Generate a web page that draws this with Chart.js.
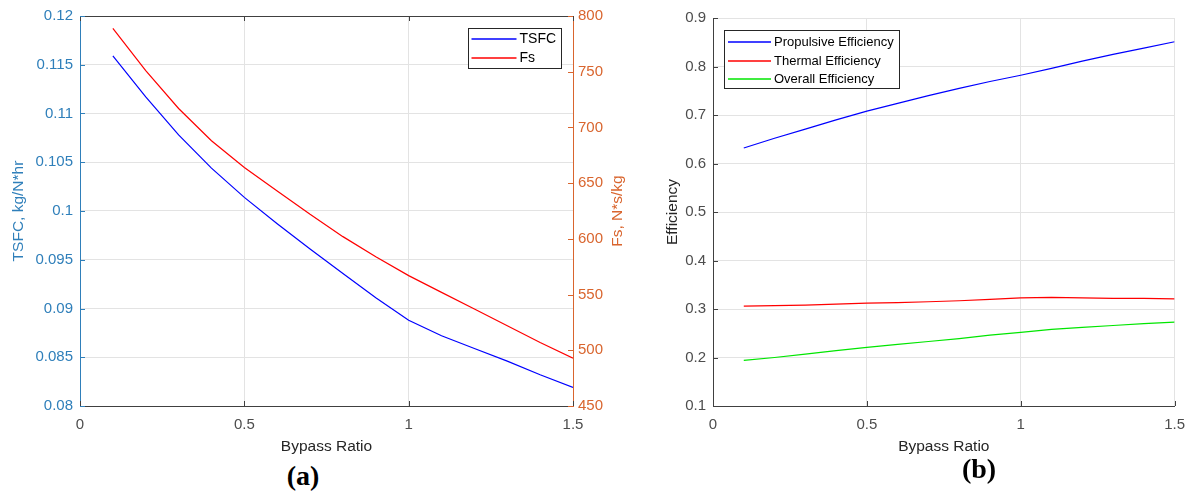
<!DOCTYPE html>
<html lang="en">
<head>
<meta charset="UTF-8">
<title>Bypass ratio study</title>
<script src="https://cdn.jsdelivr.net/npm/chart.js"></script>
<style>
  body { margin: 0; background: #fff; width: 1195px; height: 492px; position: relative; overflow: hidden; }
  canvas { position: absolute; top: 0; }
  #chartA { left: 0; }
  #chartB { left: 632px; }
  .tag { position: absolute; font-family: "Liberation Serif", "Times New Roman", serif; font-weight: bold; font-size: 28px; color: #000; transform: translate(-50%, -50%); }
</style>
</head>
<body>
  <canvas id="chartA" width="632" height="460"></canvas>
  <canvas id="chartB" width="563" height="460"></canvas>
  <div class="tag" style="left:303px; top:476px;">(a)</div>
  <div class="tag" style="left:979px; top:469px;">(b)</div>

<script>
  // values
  const bypass = [0.1, 0.2, 0.3, 0.4, 0.5, 0.6, 0.7, 0.8, 0.9, 1.0, 1.1, 1.2, 1.3, 1.4, 1.5];
  const tsfc = [0.1159, 0.1117, 0.1078, 0.1044, 0.1014, 0.0987, 0.0961, 0.0936, 0.0911, 0.0888, 0.0872, 0.0859, 0.0846, 0.0832, 0.0819];
  const fs = [789, 751, 717, 688, 664, 643, 622, 602, 584, 567, 552, 537, 522, 507, 493];
  const propEff = [0.632, 0.652, 0.671, 0.690, 0.708, 0.724, 0.740, 0.755, 0.769, 0.782, 0.796, 0.811, 0.825, 0.838, 0.851];
  const thermEff = [0.306, 0.307, 0.308, 0.310, 0.312, 0.313, 0.315, 0.317, 0.320, 0.323, 0.324, 0.323, 0.322, 0.322, 0.321];
  const overallEff = [0.194, 0.200, 0.207, 0.214, 0.221, 0.227, 0.233, 0.239, 0.246, 0.252, 0.258, 0.262, 0.266, 0.270, 0.273];

  const xTicks = [0, 0.5, 1, 1.5];
  const tsfcTicks = [0.08, 0.085, 0.09, 0.095, 0.1, 0.105, 0.11, 0.115, 0.12];
  const fsTicks = [450, 500, 550, 600, 650, 700, 750, 800];
  const effTicks = [0.1, 0.2, 0.3, 0.4, 0.5, 0.6, 0.7, 0.8, 0.9];

  const FONT = '"Liberation Sans", Arial, sans-serif';
  const BLUE_AX = '#2f7fba';
  const ORANGE_AX = '#d9652e';
  const GRID = '#e3e3e3';
  const DARK = '#404040';

  Chart.defaults.font.family = FONT;

  const pts = ys => bypass.map((x, i) => ({ x: x, y: ys[i] }));
  const useTicks = arr => scale => { scale.ticks = arr.map(v => ({ value: v })); };

  // MATLAB style: ticks pointing into the plot, optional dark top edge
  const frame = {
    id: 'frame',
    afterDatasetsDraw(chart, args, o) {
      const { ctx, chartArea: a, scales } = chart;
      ctx.save();
      ctx.lineWidth = 1;
      if (o.top) {
        ctx.strokeStyle = o.top;
        ctx.beginPath();
        ctx.moveTo(a.left, Math.round(a.top) + 0.5);
        ctx.lineTo(a.right, Math.round(a.top) + 0.5);
        ctx.stroke();
      }
      (o.marks || []).forEach(m => {
        const s = scales[m.id];
        ctx.strokeStyle = m.color;
        s.ticks.forEach(t => {
          const p = Math.round(s.getPixelForValue(t.value)) + 0.5;
          ctx.beginPath();
          if (m.side === 'bottom') { ctx.moveTo(p, a.bottom); ctx.lineTo(p, a.bottom - 5); }
          if (m.side === 'top') { ctx.moveTo(p, a.top); ctx.lineTo(p, a.top + 5); }
          if (m.side === 'left') { ctx.moveTo(a.left, p); ctx.lineTo(a.left + 5, p); }
          if (m.side === 'right') { ctx.moveTo(a.right, p); ctx.lineTo(a.right - 5, p); }
          ctx.stroke();
        });
      });
      ctx.restore();
    }
  };

  // boxed legend inside the plot
  const boxLegend = {
    id: 'boxLegend',
    afterDraw(chart, args, o) {
      const ctx = chart.ctx;
      ctx.save();
      ctx.fillStyle = '#fff';
      ctx.fillRect(o.x, o.y, o.w, o.h);
      ctx.strokeStyle = '#262626';
      ctx.lineWidth = 1;
      ctx.strokeRect(o.x + 0.5, o.y + 0.5, o.w, o.h);
      ctx.font = o.size + 'px ' + FONT;
      ctx.textBaseline = 'middle';
      chart.data.datasets.forEach((ds, i) => {
        const cy = Math.round(o.y + o.first + i * o.row);
        ctx.strokeStyle = chart.getDatasetMeta(i).dataset.options.borderColor;
        ctx.lineWidth = 1.5;
        ctx.beginPath();
        ctx.moveTo(o.x + o.pad, cy);
        ctx.lineTo(o.x + o.pad + o.len, cy);
        ctx.stroke();
        ctx.fillStyle = '#000';
        ctx.fillText(ds.label, o.x + o.pad + o.len + 3, cy);
      });
      ctx.restore();
    }
  };

  // right-hand axis label reading bottom to top
  const sideTitle = {
    id: 'sideTitle',
    afterDraw(chart, args, o) {
      if (!o.text) return;
      const { ctx, chartArea: a } = chart;
      ctx.save();
      ctx.translate(o.x, (a.top + a.bottom) / 2);
      ctx.rotate(-Math.PI / 2);
      ctx.font = o.size + 'px ' + FONT;
      ctx.fillStyle = o.color;
      ctx.textAlign = 'center';
      ctx.textBaseline = 'middle';
      ctx.fillText(o.text, 0, 0);
      ctx.restore();
    }
  };

  const line = (label, ys, color, axis) => ({
    label: label,
    data: pts(ys),
    borderColor: color,
    borderWidth: 1.2,
    pointRadius: 0,
    tension: 0,
    fill: false,
    yAxisID: axis || 'y'
  });

  const xScale = {
    type: 'linear',
    min: 0,
    max: 1.5,
    afterBuildTicks: useTicks(xTicks),
    afterFit: s => { s.height = 54; },
    ticks: { color: '#4d4d4d', font: { size: 15 }, padding: 10, callback: v => String(v) },
    grid: { color: GRID, drawTicks: false },
    border: { color: DARK },
    title: { display: true, text: 'Bypass Ratio', color: '#262626', font: { size: 15.5 }, padding: { top: 0, bottom: 4 } }
  };

  new Chart(document.getElementById('chartA'), {
    type: 'line',
    data: {
      datasets: [
        line('TSFC', tsfc, '#0000ff', 'y'),
        line('Fs', fs, '#ff0000', 'y1')
      ]
    },
    options: {
      responsive: false,
      animation: false,
      layout: { padding: { top: 16, left: 0, right: 0, bottom: 0 } },
      scales: {
        x: xScale,
        y: {
          type: 'linear',
          position: 'left',
          min: 0.08,
          max: 0.12,
          afterBuildTicks: useTicks(tsfcTicks),
          afterFit: s => { s.width = 80; },
          ticks: { color: BLUE_AX, font: { size: 15 }, padding: 7, callback: v => String(v) },
          grid: { color: GRID, drawTicks: false },
          border: { color: BLUE_AX },
          title: { display: true, text: 'TSFC, kg/N*hr', color: BLUE_AX, font: { size: 15.5 }, padding: { top: 9, bottom: 0 } }
        },
        y1: {
          type: 'linear',
          position: 'right',
          min: 450,
          max: 800,
          afterBuildTicks: useTicks(fsTicks),
          afterFit: s => { s.width = 59; },
          ticks: { color: ORANGE_AX, font: { size: 15 }, padding: 5, callback: v => String(v) },
          grid: { display: false, drawTicks: false },
          border: { color: ORANGE_AX }
        }
      },
      plugins: {
        legend: { display: false },
        tooltip: { enabled: false },
        frame: {
          top: DARK,
          marks: [
            { id: 'x', side: 'bottom', color: DARK },
            { id: 'x', side: 'top', color: DARK },
            { id: 'y', side: 'left', color: BLUE_AX },
            { id: 'y1', side: 'right', color: ORANGE_AX }
          ]
        },
        boxLegend: { x: 468, y: 28, w: 93, h: 40, first: 11.3, row: 19, pad: 3.5, len: 45, size: 14 },
        sideTitle: { text: 'Fs, N*s/kg', x: 618, size: 15.5, color: ORANGE_AX }
      }
    },
    plugins: [frame, boxLegend, sideTitle]
  });

  new Chart(document.getElementById('chartB'), {
    type: 'line',
    data: {
      datasets: [
        line('Propulsive Efficiency', propEff, '#0000ff'),
        line('Thermal Efficiency', thermEff, '#ff0000'),
        line('Overall Efficiency', overallEff, '#00e600')
      ]
    },
    options: {
      responsive: false,
      animation: false,
      layout: { padding: { top: 18, left: 0, right: 13, bottom: 0 } },
      scales: {
        x: xScale,
        y: {
          type: 'linear',
          position: 'left',
          min: 0.1,
          max: 0.9,
          afterBuildTicks: useTicks(effTicks),
          afterFit: s => { s.width = 81; },
          ticks: { color: '#4d4d4d', font: { size: 15 }, padding: 7, callback: v => String(v) },
          grid: { color: GRID, drawTicks: false },
          border: { color: DARK },
          title: { display: true, text: 'Efficiency', color: '#262626', font: { size: 15.5 }, padding: { top: 31, bottom: 0 } }
        }
      },
      plugins: {
        legend: { display: false },
        tooltip: { enabled: false },
        frame: {
          marks: [
            { id: 'x', side: 'bottom', color: DARK },
            { id: 'y', side: 'left', color: DARK }
          ]
        },
        boxLegend: { x: 92, y: 30, w: 175, h: 58, first: 12.3, row: 18.3, pad: 4, len: 43, size: 13 }
      }
    },
    plugins: [frame, boxLegend]
  });
</script>
</body>
</html>
